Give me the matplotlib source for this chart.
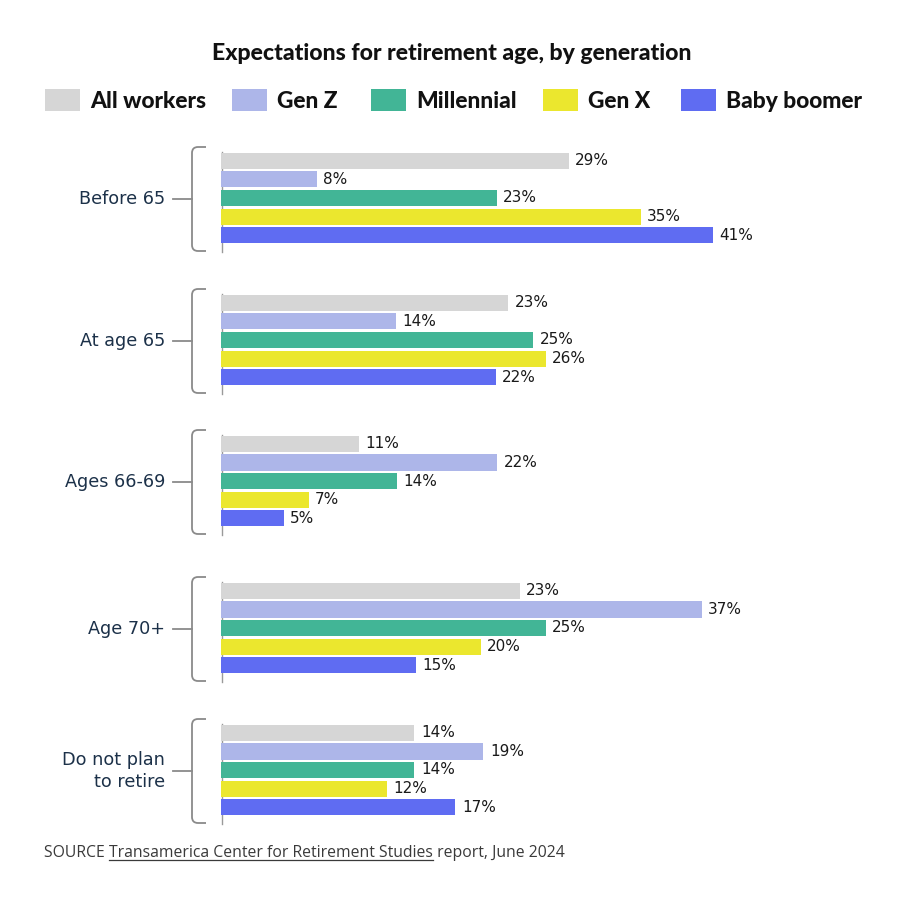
import matplotlib
matplotlib.use("Agg")
import matplotlib.pyplot as plt
from matplotlib.patches import Rectangle, PathPatch
from matplotlib.path import Path

# ---------------- data ----------------
categories = ["Before 65", "At age 65", "Ages 66-69", "Age 70+", "Do not plan\nto retire"]
series_names = ["All workers", "Gen Z", "Millennial", "Gen X", "Baby boomer"]
all_workers = [29, 23, 11, 23, 14]
gen_z = [8, 14, 22, 37, 19]
millennial = [23, 25, 14, 25, 14]
gen_x = [35, 26, 7, 20, 12]
baby_boomer = [41, 22, 5, 15, 17]
series_values = [all_workers, gen_z, millennial, gen_x, baby_boomer]

colors = ["#d6d6d6", "#adb6e9", "#42b596", "#ebe72e", "#5f6cf2"]
label_color = "#1c3149"
value_color = "#1a1a1a"
bracket_color = "#8a8a8a"

# ---------------- layout (pixels) ----------------
W, H = 900, 906
fig = plt.figure(figsize=(W / 100, H / 100), dpi=100)
fig.patch.set_facecolor("white")

# overlay axes in pixel coordinates for decorations
ov = fig.add_axes([0, 0, 1, 1])
ov.set_xlim(0, W)
ov.set_ylim(H, 0)
ov.axis("off")

title_font = ["Lato", "DejaVu Sans"]
body_font = ["DejaVu Sans"]

ov.text(452, 54, "Expectations for retirement age, by generation", ha="center", va="center",
        fontsize=16.6, fontweight="black", family=title_font, color="#111111")

# legend
leg_x = [45, 232, 371, 543, 681]
for name, col, lx in zip(series_names, colors, leg_x):
    ov.add_patch(Rectangle((lx, 89), 35, 22, facecolor=col, edgecolor="none"))
    ov.text(lx + 45, 101, name, ha="left", va="center", fontsize=16.4, fontweight="black",
            family=title_font, color="#111111")

group_centers = [198, 340, 481, 628, 770]
group_xmax = [50.0, 48.0, 47.8, 46.2, 43.5]
bar_left = 221
axes_w = 600
half = 55
step = 18.6
bar_h = 16.2

for gi, (cat, yc, xmax) in enumerate(zip(categories, group_centers, group_xmax)):
    ax = fig.add_axes([bar_left / W, (H - (yc + half)) / H, axes_w / W, 2 * half / H])
    ax.set_xlim(0, xmax)
    ax.set_ylim(half, -half)
    ax.axis("off")
    for si, vals in enumerate(series_values):
        y = (si - 2) * step
        ax.barh(y, vals[gi], height=bar_h, color=colors[si], edgecolor="none")
        ax.text(vals[gi] + 0.5, y, f"{vals[gi]}%", ha="left", va="center",
                fontsize=11, color=value_color, family=body_font)

    # axis line
    ov.plot([bar_left + 0.5, bar_left + 0.5], [yc - 46, yc + 54], color="#9a9a9a", lw=1.0)
    # bracket
    top, bot = yc - 51, yc + 53
    bx, hx, r = 192, 206, 6
    verts = [(hx, top), (bx + r, top), (bx, top), (bx, top + r),
             (bx, bot - r), (bx, bot), (bx + r, bot), (hx, bot)]
    codes = [Path.MOVETO, Path.LINETO, Path.CURVE3, Path.CURVE3,
             Path.LINETO, Path.CURVE3, Path.CURVE3, Path.LINETO]
    ov.add_patch(PathPatch(Path(verts, codes), facecolor="none", edgecolor=bracket_color, lw=1.3))
    ov.plot([173, bx], [yc + 1, yc + 1], color=bracket_color, lw=1.3)
    ov.text(165, yc + 1, cat, ha="right", va="center", fontsize=12.7, color=label_color,
            family=body_font, linespacing=1.3, multialignment="right")

# source line with underlined link part
src_font = ["Open Sans", "DejaVu Sans"]
fig.canvas.draw()
renderer = fig.canvas.get_renderer()
parts = ["SOURCE ", "Transamerica Center for Retirement Studies", " report, June 2024"]
x = 44
ys = 853
for i, p in enumerate(parts):
    t = ov.text(x, ys, p, ha="left", va="center", fontsize=11.3, color="#3a3a3a", family=src_font)
    bb = t.get_window_extent(renderer)
    wpx = bb.width
    if i == 1:
        ov.plot([x, x + wpx], [ys + 6.5, ys + 6.5], color="#3a3a3a", lw=0.9)
    x += wpx

fig.savefig("out.png", dpi=100, facecolor="white")
